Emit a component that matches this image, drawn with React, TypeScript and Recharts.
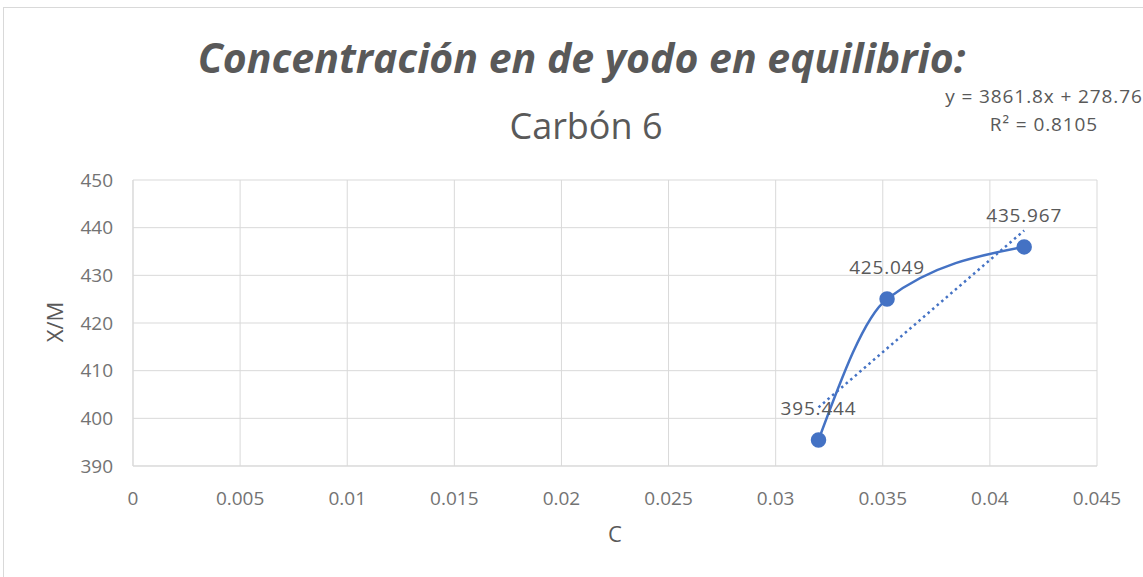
import { ComposedChart, Line, XAxis, YAxis, CartesianGrid, LabelList } from "recharts"

const cValues = [0.032, 0.0352, 0.0416]
const xmValues = [395.444, 425.049, 435.967]
const xTicks = [0, 0.005, 0.01, 0.015, 0.02, 0.025, 0.03, 0.035, 0.04, 0.045]
const yTicks = [390, 400, 410, 420, 430, 440, 450]
// linear trendline end points (y = 3861.8x + 278.76)
const trendC = [0.032, 0.0416]
const trendXM = [402.3, 439.4]

const points = cValues.map((c, i) => ({ x: c, y: xmValues[i] }))
const trend = trendC.map((c, i) => ({ x: c, y: trendXM[i] }))

const blue = "#4472c4"
const grey = "#595959"
const tickGrey = "#737373"
const font = "'Open Sans', sans-serif"

function PointLabel(props: any) {
  const { x, y, value } = props
  return (
    <text x={x} y={y - 25} textAnchor="middle" fill={grey} fontSize={19} letterSpacing={0.8} fontFamily={font}>
      {value}
    </text>
  )
}

export default function App() {
  return (
    <div style={{ position: "absolute", left: 0, top: 0, width: 1143, height: 577, background: "#fff", overflow: "hidden", fontFamily: font }}>
      <div style={{ position: "absolute", left: 3, top: 7, width: 1160, height: 600, border: "1px solid #d9d9d9" }} />
      <div style={{ position: "absolute", left: 0, width: 1163, top: 29, textAlign: "center", fontSize: 41, fontWeight: 700, fontStyle: "italic", color: grey, whiteSpace: "nowrap" }}>
        Concentración en de yodo en equilibrio:
      </div>
      <div style={{ position: "absolute", left: 0, width: 1172, top: 101, textAlign: "center", fontSize: 36, color: grey }}>
        Carbón 6
      </div>
      <div style={{ position: "absolute", left: 943, width: 202, top: 82, textAlign: "center", fontSize: 19, letterSpacing: 0.9, lineHeight: "28px", color: grey, whiteSpace: "nowrap" }}>
        y = 3861.8x + 278.76
        <br />
        R² = 0.8105
      </div>
      <div style={{ position: "absolute", left: 14, width: 80, top: 309, height: 26, textAlign: "center", fontSize: 22, lineHeight: "26px", color: grey, transform: "rotate(-90deg)", transformOrigin: "40px 13px" }}>
        X/M
      </div>
      <div style={{ position: "absolute", left: 0, top: 0 }}>
        <ComposedChart width={1143} height={577} margin={{ top: 180, right: 46, bottom: 51, left: 0 }}>
          <CartesianGrid stroke="#d9d9d9" />
          <XAxis
            type="number"
            dataKey="x"
            domain={[0, 0.045]}
            ticks={xTicks}
            allowDataOverflow
            height={60}
            tickLine={false}
            tickMargin={20}
            stroke="#d9d9d9"
            tick={{ fill: tickGrey, fontSize: 19, fontFamily: font }}
            label={{ value: "C", position: "bottom", offset: 0, fill: grey, fontSize: 22, fontFamily: font }}
          />
          <YAxis
            type="number"
            dataKey="y"
            domain={[390, 450]}
            ticks={yTicks}
            allowDataOverflow
            width={133}
            tickLine={false}
            tickMargin={14}
            stroke="#d9d9d9"
            tick={{ fill: tickGrey, fontSize: 19, fontFamily: font }}
          />
          <Line
            data={trend}
            dataKey="y"
            type="linear"
            stroke={blue}
            strokeWidth={2.5}
            strokeDasharray="2.5 3.5"
            dot={false}
            activeDot={false}
            isAnimationActive={false}
          />
          <Line
            data={points}
            dataKey="y"
            type="monotoneX"
            stroke={blue}
            strokeWidth={2.5}
            dot={{ r: 6.5, fill: blue, stroke: blue }}
            isAnimationActive={false}
          >
            <LabelList dataKey="y" content={<PointLabel />} />
          </Line>
        </ComposedChart>
      </div>
    </div>
  )
}
